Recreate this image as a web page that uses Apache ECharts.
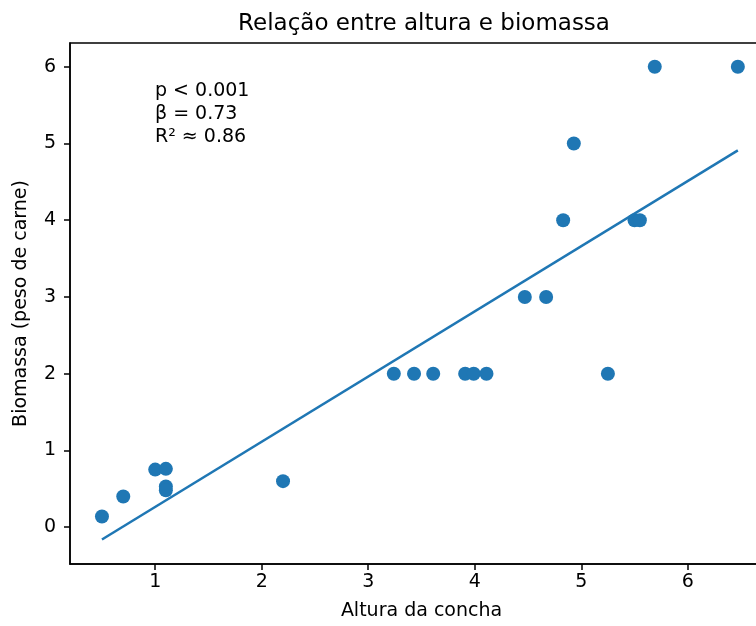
<!DOCTYPE html>
<html>
<head>
<meta charset="utf-8">
<script src="https://cdn.jsdelivr.net/npm/echarts@6/dist/echarts.min.js"></script>
<style>
html, body { margin: 0; padding: 0; background: #fff; overflow: hidden; }
/* a figura original esta cortada na direita: o eixo vai alem da janela */
#chart { width: 773px; height: 626px; }
</style>
</head>
<body>
<div id="chart"></div>
<script>
// pontos: altura da concha x biomassa
var altura = [0.5, 0.7, 1.0, 1.1, 1.1, 1.1, 2.2, 3.24, 3.43, 3.61, 3.91, 3.99, 4.11, 4.47, 4.67, 4.83, 4.93, 5.25, 5.5, 5.55, 5.69, 6.47];
var biomassa = [0.14, 0.4, 0.75, 0.76, 0.53, 0.48, 0.6, 2, 2, 2, 2, 2, 2, 3, 3, 4, 5, 2, 4, 4, 6, 6];
// reta de regressao (extremos)
var retaX = [0.5, 6.47];
var retaY = [-0.16, 4.91];
var xTicks = [1, 2, 3, 4, 5, 6];
var yTicks = [0, 1, 2, 3, 4, 5, 6];
var stats = ['p < 0.001', 'β = 0.73', 'R² ≈ 0.86'];

var azul = '#1f77b4';
var fonte = 'DejaVu Sans';
var tam = 19;

var chart = echarts.init(document.getElementById('chart'));

var option = {
    animation: false,
    title: {
        text: 'Relação entre altura e biomassa',
        left: 419,
        top: 8,
        textAlign: 'center',
        textStyle: { fontFamily: fonte, fontSize: 23, fontWeight: 'normal', color: '#000' }
    },
    grid: {
        left: 70, top: 43, right: 0, bottom: 56,
        show: true, borderColor: '#000', borderWidth: 1.5
    },
    xAxis: {
        type: 'value',
        min: 0.2, max: 6.8,
        name: 'Altura da concha',
        nameLocation: 'middle',
        nameGap: 38,
        nameTextStyle: { fontFamily: fonte, fontSize: tam, color: '#000' },
        splitLine: { show: false },
        axisLine: { show: true, onZero: false, lineStyle: { color: '#000', width: 1.5 } },
        axisTick: { show: true, length: 6, lineStyle: { color: '#000', width: 1.5 }, customValues: xTicks },
        axisLabel: { fontFamily: fonte, fontSize: tam, color: '#000', margin: 9, customValues: xTicks }
    },
    yAxis: {
        type: 'value',
        min: -0.48, max: 6.31,
        name: 'Biomassa (peso de carne)',
        nameLocation: 'middle',
        nameGap: 39,
        nameTextStyle: { fontFamily: fonte, fontSize: tam, color: '#000' },
        splitLine: { show: false },
        axisLine: { show: true, onZero: false, lineStyle: { color: '#000', width: 1.5 } },
        axisTick: { show: true, length: 6, lineStyle: { color: '#000', width: 1.5 }, customValues: yTicks },
        axisLabel: { fontFamily: fonte, fontSize: tam, color: '#000', margin: 14, customValues: yTicks }
    },
    graphic: [{
        type: 'text',
        left: 155,
        top: 80,
        style: {
            text: stats.join('\n'),
            font: tam + 'px DejaVu Sans',
            fill: '#000',
            lineHeight: 23
        }
    }],
    series: [
        {
            type: 'scatter',
            symbolSize: 14,
            itemStyle: { color: azul, opacity: 1 },
            data: altura.map(function (x, i) { return [x, biomassa[i]]; })
        },
        {
            type: 'line',
            symbol: 'none',
            lineStyle: { color: azul, width: 2.5 },
            data: retaX.map(function (x, i) { return [x, retaY[i]]; })
        }
    ]
};

chart.setOption(option);
</script>
</body>
</html>
